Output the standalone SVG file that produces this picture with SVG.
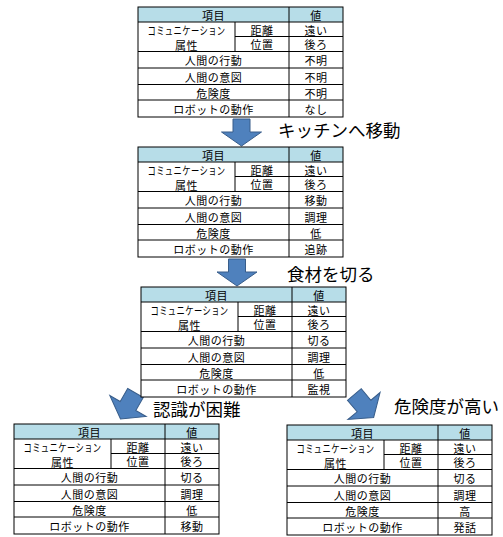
<svg xmlns="http://www.w3.org/2000/svg" xmlns:xlink="http://www.w3.org/1999/xlink" width="503" height="537" viewBox="0 0 503 537">
<style>
.t{font-family:"Noto Sans CJK JP","Noto Sans",sans-serif;font-size:11px;fill:#000;text-anchor:middle;dominant-baseline:central;letter-spacing:0.5px}
.lbl{font-family:"Noto Sans CJK JP","Noto Sans",sans-serif;font-size:17.5px;fill:#000}
.ln{stroke:#000;stroke-width:1;fill:none}
.arr{fill:#4f81bd;stroke:#385d8a;stroke-width:1}
</style>
<defs>
<g id="grid">
<rect x="0" y="0" width="205" height="110" fill="#fff"/>
<rect x="0" y="0" width="205" height="15" fill="#b7dde8"/>
<path class="ln" d="M151 0V110M97 15V44.5M0 15H205M97 29.5H205M0 44.5H205M0 61H205M0 77.5H205M0 93H205"/>
<rect class="ln" x="0" y="0" width="205" height="110"/>
</g>
<g id="labels">
<text class="t" x="75.5" y="7.5">項目</text>
<text class="t" x="178" y="7.5">値</text>
<text class="t" x="48.5" y="23" textLength="78" lengthAdjust="spacingAndGlyphs">コミュニケーション</text>
<text class="t" x="48.5" y="38">属性</text>
<text class="t" x="124" y="22.5">距離</text>
<text class="t" x="124" y="37">位置</text>
<text class="t" x="75.5" y="53">人間の行動</text>
<text class="t" x="75.5" y="69.5">人間の意図</text>
<text class="t" x="75.5" y="85.5">危険度</text>
<text class="t" x="75.5" y="101.5">ロボットの動作</text>
<text class="t" x="178" y="22.5">遠い</text>
<text class="t" x="178" y="37">後ろ</text>
</g>
<polygon id="arrow" points="-8.5,-13 8.5,-13 8.5,0 20,0 0,14 -20,0 -8.5,0"/>
<polygon id="arrowB" points="-9,-15 9,-15 9,0 21,0 0,15 -21,0 -9,0"/>
</defs>

<g id="connectors">
<use xlink:href="#arrow" class="arr" transform="translate(241.5,132)"/>
<use xlink:href="#arrow" class="arr" transform="translate(237,272)"/>
<use xlink:href="#arrowB" class="arr" transform="translate(128,406) rotate(30)"/>
<use xlink:href="#arrowB" class="arr" transform="translate(364,406) rotate(-40)"/>
<text class="lbl" x="278" y="137">キッチンへ移動</text>
<text class="lbl" x="287" y="281">食材を切る</text>
<text class="lbl" x="153" y="416">認識が困難</text>
<text class="lbl" x="394" y="413">危険度が高い</text>
</g>

<g id="table1" transform="translate(138,7)">
<use xlink:href="#grid"/><use xlink:href="#labels"/>
<text class="t" x="178" y="53">不明</text>
<text class="t" x="178" y="69.5">不明</text>
<text class="t" x="178" y="85.5">不明</text>
<text class="t" x="178" y="101.5">なし</text>
</g>

<g id="table2" transform="translate(138,147)">
<use xlink:href="#grid"/><use xlink:href="#labels"/>
<text class="t" x="178" y="53">移動</text>
<text class="t" x="178" y="69.5">調理</text>
<text class="t" x="178" y="85.5">低</text>
<text class="t" x="178" y="101.5">追跡</text>
</g>

<g id="table3" transform="translate(141,287)">
<use xlink:href="#grid"/><use xlink:href="#labels"/>
<text class="t" x="178" y="53">切る</text>
<text class="t" x="178" y="69.5">調理</text>
<text class="t" x="178" y="85.5">低</text>
<text class="t" x="178" y="101.5">監視</text>
</g>

<g id="table4" transform="translate(14,424)">
<use xlink:href="#grid"/><use xlink:href="#labels"/>
<text class="t" x="178" y="53">切る</text>
<text class="t" x="178" y="69.5">調理</text>
<text class="t" x="178" y="85.5">低</text>
<text class="t" x="178" y="101.5">移動</text>
</g>

<g id="table5" transform="translate(287,425)">
<use xlink:href="#grid"/><use xlink:href="#labels"/>
<text class="t" x="178" y="53">切る</text>
<text class="t" x="178" y="69.5">調理</text>
<text class="t" x="178" y="85.5">高</text>
<text class="t" x="178" y="101.5">発話</text>
</g>
</svg>
